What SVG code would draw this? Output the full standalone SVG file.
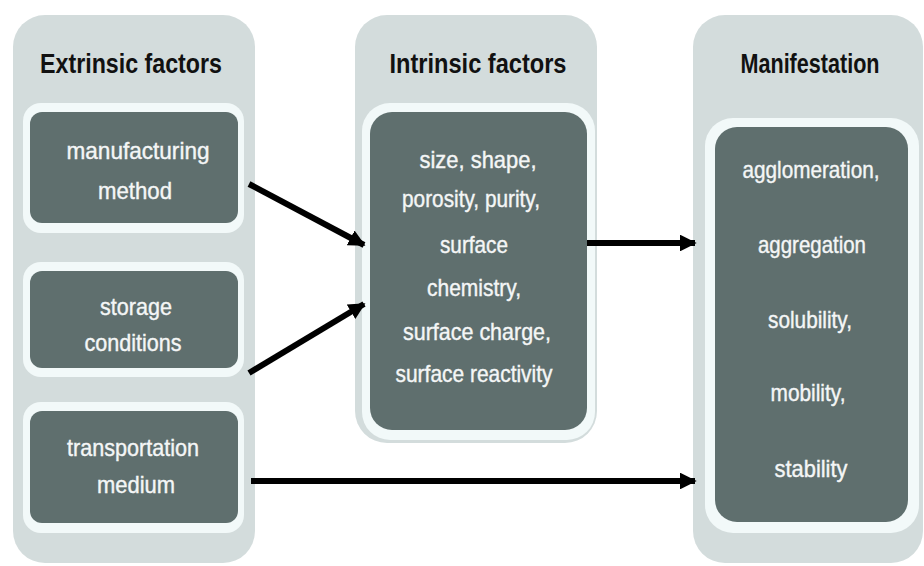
<svg xmlns="http://www.w3.org/2000/svg" width="924" height="566" viewBox="0 0 924 566">
<defs>
<style>
.panel{fill:#d3dcdc}
.ring{fill:#f2f9f9}
.box{fill:#5f6f6e}
.hdr{font-family:"Liberation Sans",Arial,sans-serif;font-weight:bold;font-size:28px;fill:#111;text-anchor:middle}
.t{font-family:"Liberation Sans",Arial,sans-serif;font-size:24px;fill:#f4f6f6;stroke:#f4f6f6;stroke-width:0.4;text-anchor:middle}
.conn{stroke:#000;stroke-width:6;fill:none}
</style>
<marker id="ah" viewBox="0 0 10 10" refX="9" refY="5" markerWidth="2.8" markerHeight="2.8" orient="auto" markerUnits="strokeWidth">
<path d="M0,0 L10,5 L0,10 Z" fill="#000"/>
</marker>
</defs>
<rect width="924" height="566" fill="#ffffff"/>

<g id="extrinsic">
<rect class="panel" x="13" y="15" width="242" height="548" rx="32"/>
<text class="hdr" x="131" y="73" textLength="182" lengthAdjust="spacingAndGlyphs">Extrinsic factors</text>
</g>
<g id="manufacturing">
<rect class="ring" x="23" y="103" width="221" height="130" rx="18"/>
<rect class="box" x="30" y="112" width="208" height="111" rx="12"/>
<text class="t" x="138" y="159" textLength="143" lengthAdjust="spacingAndGlyphs">manufacturing</text>
<text class="t" x="135" y="199" textLength="74" lengthAdjust="spacingAndGlyphs">method</text>
</g>
<g id="storage">
<rect class="ring" x="23" y="262" width="221" height="115" rx="18"/>
<rect class="box" x="30" y="271" width="208" height="97" rx="12"/>
<text class="t" x="136" y="315" textLength="72" lengthAdjust="spacingAndGlyphs">storage</text>
<text class="t" x="133" y="351" textLength="97" lengthAdjust="spacingAndGlyphs">conditions</text>
</g>
<g id="transportation">
<rect class="ring" x="23" y="402" width="221" height="131" rx="18"/>
<rect class="box" x="30" y="411" width="208" height="112" rx="12"/>
<text class="t" x="133" y="456" textLength="132" lengthAdjust="spacingAndGlyphs">transportation</text>
<text class="t" x="136" y="493" textLength="78" lengthAdjust="spacingAndGlyphs">medium</text>
</g>

<g id="intrinsic">
<rect class="panel" x="355" y="15" width="242" height="428" rx="32"/>
<text class="hdr" x="478" y="73" textLength="177" lengthAdjust="spacingAndGlyphs">Intrinsic factors</text>
<rect class="ring" x="362" y="103" width="233" height="337" rx="28"/>
<rect class="box" x="370" y="112" width="217" height="318" rx="22"/>
<text class="t" x="478" y="168" textLength="117" lengthAdjust="spacingAndGlyphs">size, shape,</text>
<text class="t" x="471" y="207" textLength="138" lengthAdjust="spacingAndGlyphs">porosity, purity,</text>
<text class="t" x="474" y="253" textLength="68" lengthAdjust="spacingAndGlyphs">surface</text>
<text class="t" x="474" y="296" textLength="94" lengthAdjust="spacingAndGlyphs">chemistry,</text>
<text class="t" x="477" y="340" textLength="148" lengthAdjust="spacingAndGlyphs">surface charge,</text>
<text class="t" x="474" y="382" textLength="157" lengthAdjust="spacingAndGlyphs">surface reactivity</text>
</g>

<g id="manifestation">
<rect class="panel" x="693" y="15" width="230" height="548" rx="32"/>
<text class="hdr" x="810" y="73" textLength="139" lengthAdjust="spacingAndGlyphs">Manifestation</text>
<rect class="ring" x="705" y="118" width="214" height="415" rx="28"/>
<rect class="box" x="715" y="127" width="193" height="395" rx="22"/>
<text class="t" x="811" y="178" textLength="137" lengthAdjust="spacingAndGlyphs">agglomeration,</text>
<text class="t" x="812" y="253" textLength="108" lengthAdjust="spacingAndGlyphs">aggregation</text>
<text class="t" x="810" y="328" textLength="84" lengthAdjust="spacingAndGlyphs">solubility,</text>
<text class="t" x="808" y="401" textLength="75" lengthAdjust="spacingAndGlyphs">mobility,</text>
<text class="t" x="811" y="477" textLength="73" lengthAdjust="spacingAndGlyphs">stability</text>
</g>

<g id="connectors">
<line class="conn" x1="249" y1="184" x2="364" y2="245" marker-end="url(#ah)"/>
<line class="conn" x1="249" y1="373" x2="364" y2="304" marker-end="url(#ah)"/>
<line class="conn" x1="587" y1="243" x2="695" y2="243" marker-end="url(#ah)"/>
<line class="conn" x1="251" y1="481" x2="695" y2="481" stroke-width="7" marker-end="url(#ah)"/>
</g>
</svg>
